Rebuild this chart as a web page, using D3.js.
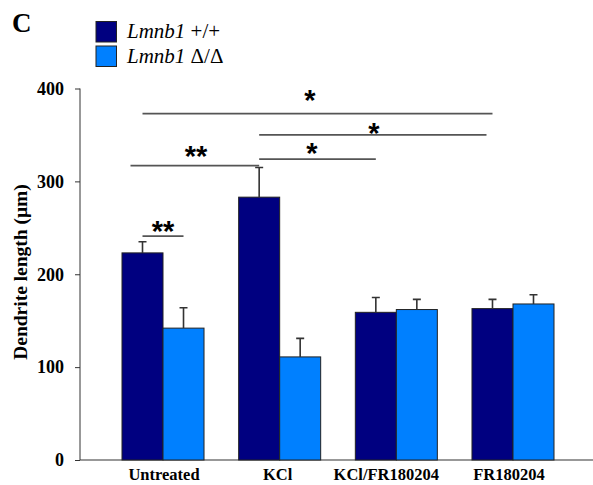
<!DOCTYPE html>
<html><head><meta charset="utf-8">
<script src="https://cdn.jsdelivr.net/npm/d3@7"></script>
<style>body{margin:0;background:#fff}</style>
</head><body>
<svg id="c" width="593" height="485"></svg>
<script>
const categories = ["Untreated", "KCl", "KCl/FR180204", "FR180204"];
const seriesNames = ["+/+", "Δ/Δ"];
const wtValues = [223, 283, 159, 163];
const wtErrors = [12, 32, 16, 10];
const koValues = [142, 111, 162, 168];
const koErrors = [22, 20, 11, 10];
const yTicks = [0, 100, 200, 300, 400];
// significance brackets: [category, series] endpoints, value level, label
const sigFrom = [[0,0],[1,0],[1,0],[0,0],[0,0]];
const sigTo   = [[3,0],[3,0],[2,0],[1,0],[0,1]];
const sigLevel = [373, 350, 324, 317, 241];
const sigLabel = ["*", "*", "*", "**", "**"];

const svg = d3.select("#c");
const colors = ["#000080", "#0080FF"];
const serif = "'Liberation Serif','Times New Roman',serif";

const y = d3.scaleLinear().domain([0, 400]).range([460, 88.5]);
const x = d3.scaleBand().domain(categories).range([87, 589]).paddingInner(0.297).paddingOuter(0.3);
const xs = d3.scaleBand().domain([0,1]).range([0, x.bandwidth()]);

// axes
const yAxis = d3.axisLeft(y).tickValues(yTicks).tickSize(5).tickFormat(d3.format("d"));
const gy = svg.append("g").attr("transform","translate(80,0)").call(yAxis);
gy.select(".domain").attr("stroke","#333").attr("d","M0,88.5V460");
gy.selectAll(".tick line").attr("stroke","#333");
gy.selectAll(".tick text").attr("font-family",serif).attr("font-weight","bold").attr("font-size",18).attr("fill","#000").attr("x",-16);

svg.append("line").attr("x1",80).attr("x2",593).attr("y1",y(0)).attr("y2",y(0)).attr("stroke","#333").attr("stroke-width",1.2);

const labelShift = [1, -2, -10, -4];
svg.append("g").selectAll("text").data(categories).join("text")
  .attr("x",(d,i)=>x(d)+x.bandwidth()/2+labelShift[i]).attr("y",480)
  .attr("text-anchor","middle").attr("font-family",serif).attr("font-weight","bold").attr("font-size",16.5)
  .text(d=>d);

svg.append("text").attr("transform","translate(27,272) rotate(-90)").attr("text-anchor","middle")
  .attr("font-family",serif).attr("font-weight","bold").attr("font-size",19.5).text("Dendrite length (μm)");

// bars
const series = [wtValues, koValues];
const errs = [wtErrors, koErrors];
series.forEach((vals, s) => {
  const g = svg.append("g");
  g.selectAll("rect").data(vals).join("rect")
    .attr("x",(d,i)=>x(categories[i])+xs(s)).attr("width",xs.bandwidth())
    .attr("y",d=>y(d)).attr("height",d=>y(0)-y(d))
    .attr("fill",colors[s]).attr("stroke","#222").attr("stroke-width",1);
  g.selectAll("path.err").data(vals).join("path").attr("class","err")
    .attr("d",(d,i)=>{const cx=x(categories[i])+xs(s)+xs.bandwidth()/2; const t=y(d+errs[s][i]);
      return `M${cx},${y(d)}V${t}M${cx-4},${t}H${cx+4}`;})
    .attr("stroke","#333").attr("stroke-width",1.6).attr("fill","none");
});

// significance
const cxOf = p => x(categories[p[0]]) + xs(p[1]) + xs.bandwidth()/2;
const sg = svg.append("g");
sigLevel.forEach((lv,i)=>{
  const x1 = cxOf(sigFrom[i]) - (i===3 ? 12 : 0), x2 = cxOf(sigTo[i]) + (i===1 ? -6 : 0);
  const ly = y(lv);
  sg.append("line").attr("x1",x1).attr("x2",x2).attr("y1",ly).attr("y2",ly).attr("stroke","#555").attr("stroke-width",1.8);
});
const starX = [310, 374, 312, 196, 163];
const starY = [95, 128, 148, 151, 226];
sigLabel.forEach((t,i)=>{
  sg.append("text").attr("x",starX[i]).attr("y",starY[i]+15).attr("text-anchor","middle")
    .attr("font-family","'Liberation Sans',Arial,sans-serif").attr("font-weight","bold").attr("font-size",29).text(t);
});

// legend
const lg = svg.append("g");
seriesNames.forEach((n,i)=>{
  lg.append("rect").attr("x",96).attr("y",21.5+i*24.5).attr("width",20.5).attr("height",20.5).attr("fill",colors[i]).attr("stroke","#222");
  const t = lg.append("text").attr("x",127).attr("y",38+i*25).attr("font-family",serif).attr("font-size",21);
  t.append("tspan").attr("font-style","italic").text("Lmnb1");
  t.append("tspan").text(" "+n);
});
svg.append("text").attr("x",12).attr("y",32).attr("font-family",serif).attr("font-weight","bold").attr("font-size",27).text("C");
</script>
</body></html>
